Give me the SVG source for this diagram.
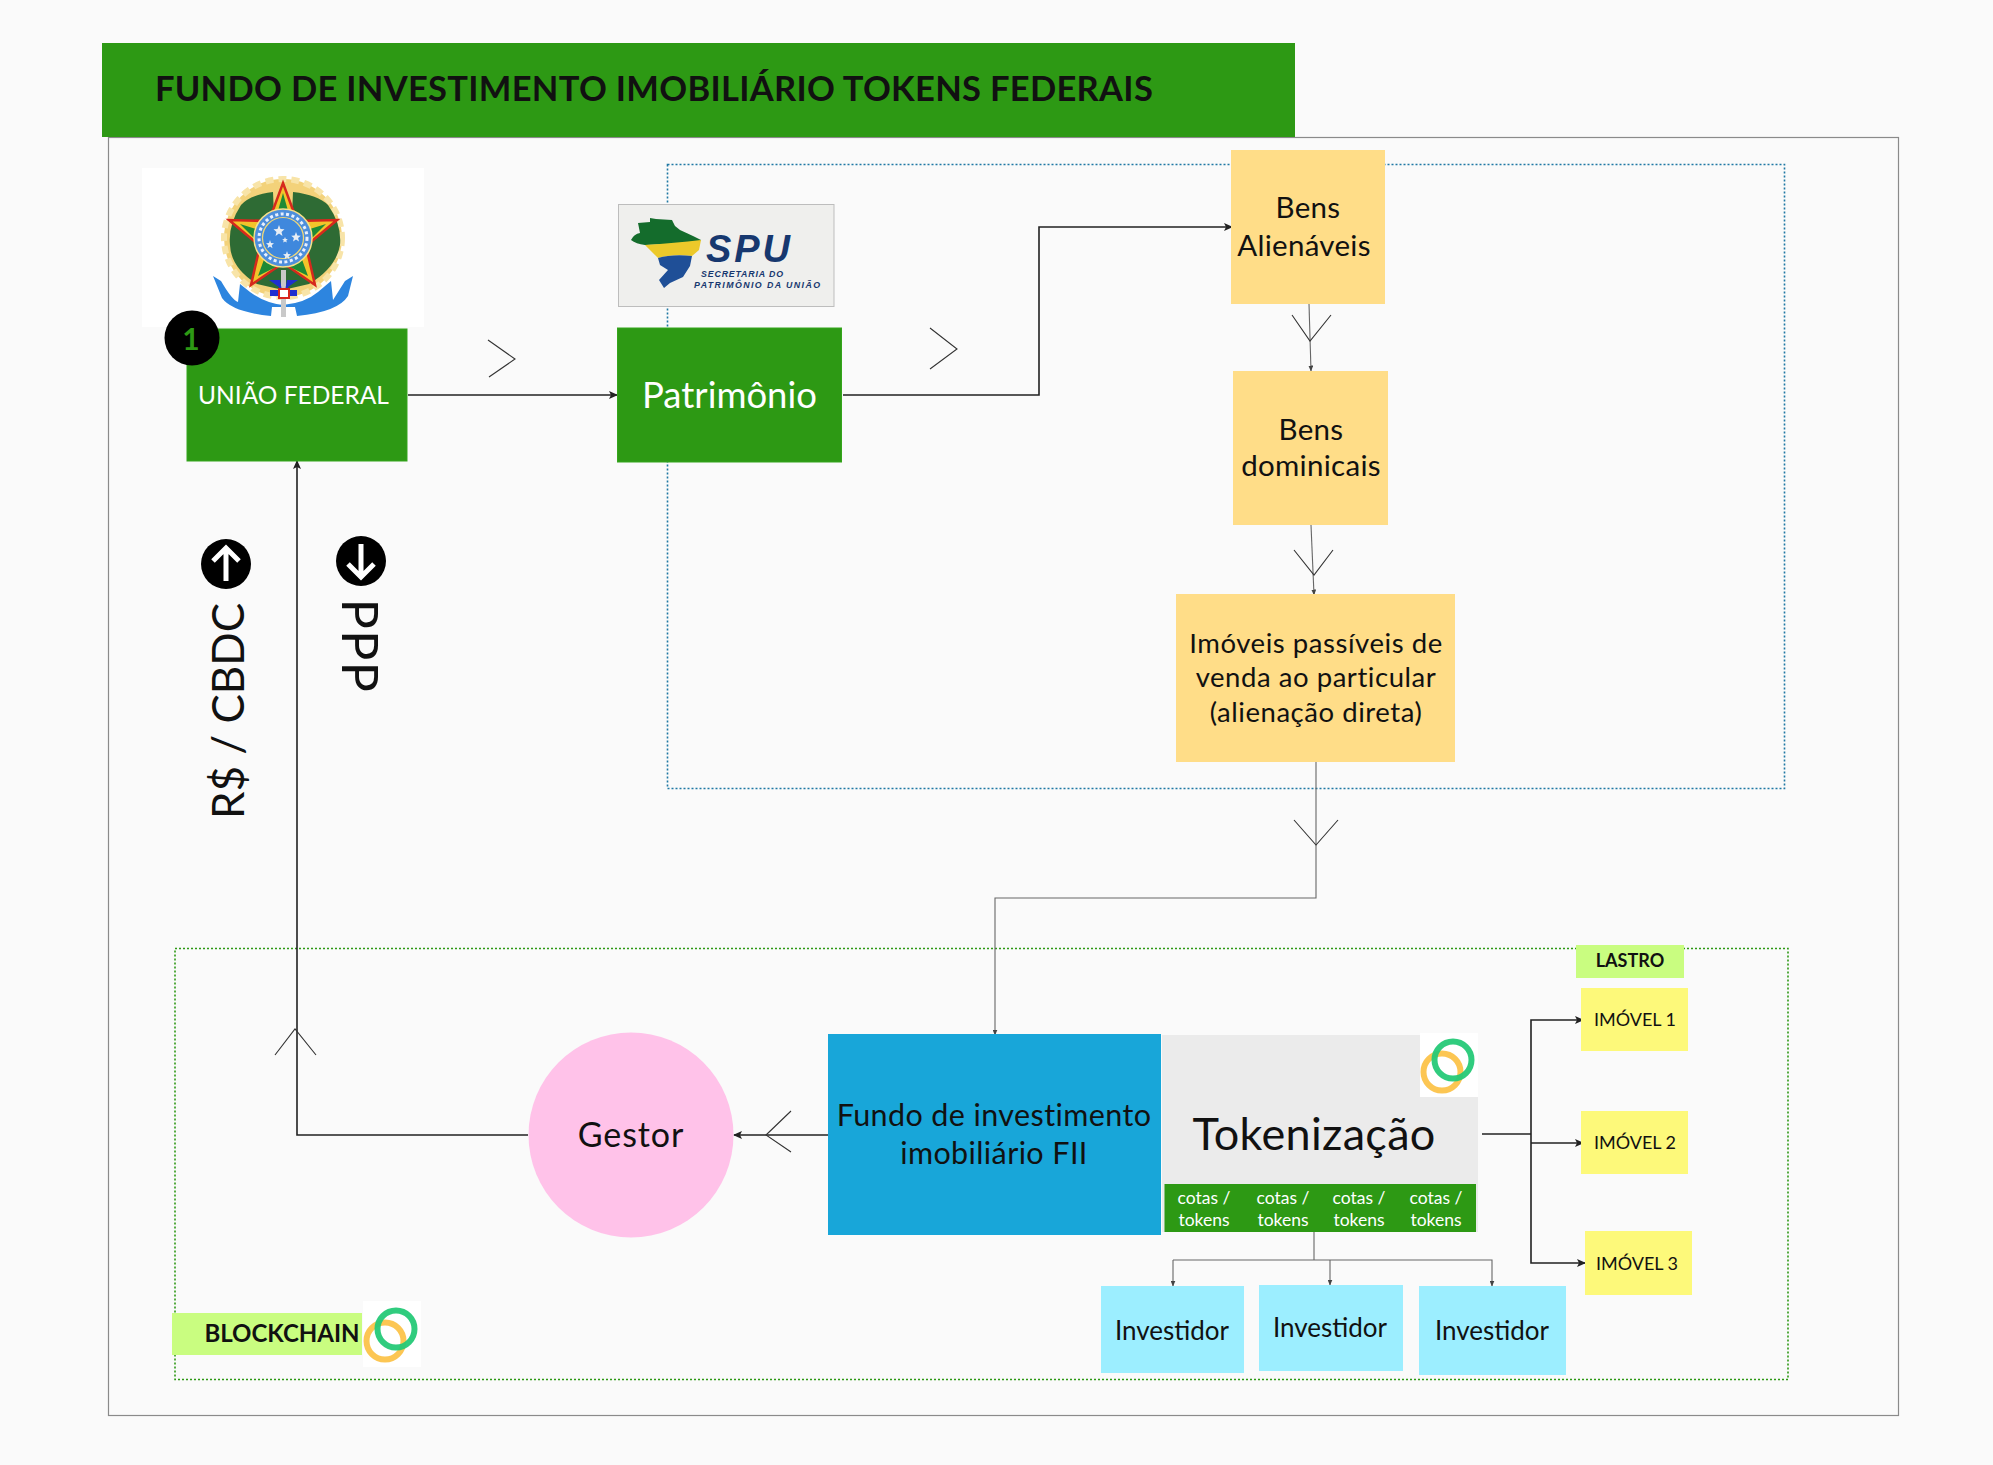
<svg xmlns="http://www.w3.org/2000/svg" width="1993" height="1465" viewBox="0 0 1993 1465">
<defs>
<style>
text{font-family:"Lato","Liberation Sans",sans-serif;fill:#111;text-anchor:middle}
.w{fill:#fff}
.c{fill:none;stroke:#222;stroke-width:1.6}
.t{fill:none;stroke:#666;stroke-width:1.1}
.ch{fill:none;stroke:#333;stroke-width:1.1}
.g{fill:#2d9914;stroke:#35a51c;stroke-width:1}
.y{fill:#ffdd88}
.b{fill:#9ceeff}
.l{fill:#fdf97a}
.ring{fill:none;stroke-width:6}
.sm{font-size:17.5px}
.p{font-size:29.5px;letter-spacing:.3px}
.q{font-size:27.5px;letter-spacing:.55px}
.f{font-size:30.5px;letter-spacing:.4px}
.spu{font-family:"Liberation Sans",sans-serif;fill:#17386f;font-weight:700;font-style:italic}
</style>
<marker id="a" markerWidth="9" markerHeight="8" refX="8" refY="4" orient="auto" markerUnits="userSpaceOnUse"><path d="M0 0L9 4L0 8L2 4Z" fill="#222"/></marker>
<marker id="s" markerWidth="6" markerHeight="5" refX="5.500" refY="2.500" orient="auto" markerUnits="userSpaceOnUse"><path d="M0 0L6 2.500L0 5Z" fill="#444"/></marker>
<symbol id="rings" overflow="visible"><circle class="ring" cx="0" cy="12" r="18.500" stroke="#fcc653"/><circle class="ring" cx="11" cy="0" r="18.500" stroke="#25c977" stroke-opacity=".95"/></symbol>
</defs>
<rect width="1993" height="1465" fill="#fafafa"/>
<rect x="108.500" y="137.500" width="1790" height="1278" fill="none" stroke="#8a8a8a" stroke-width="1.200"/>
<rect x="667.500" y="164.500" width="1117" height="624" fill="none" stroke="#1f78a4" stroke-width="1.600" stroke-dasharray="2 2"/>
<rect x="175" y="948.500" width="1613" height="431" fill="none" stroke="#2d9914" stroke-width="1.600" stroke-dasharray="2 2"/>

<g id="connectors">
<path class="c" marker-end="url(#a)" d="M408 395H617"/>
<path class="ch" d="M488 340L515 359L489 377"/>
<path class="c" marker-end="url(#a)" d="M843 395H1039V227H1232"/>
<path class="ch" d="M930 328L957 349L930 369"/>
<path class="t" marker-end="url(#s)" d="M1309 304L1311 371"/>
<path class="ch" d="M1292 315L1310 341L1331 315"/>
<path class="t" marker-end="url(#s)" d="M1311 525L1314 595"/>
<path class="ch" d="M1294 550L1314 575L1333 550"/>
<path class="t" marker-end="url(#s)" d="M1316 762V898H995V1035"/>
<path class="ch" d="M1294 820L1316 845L1338 820"/>
<path class="c" marker-end="url(#a)" d="M828 1135H734"/>
<path class="ch" d="M791 1111L766 1135L791 1152"/>
<path class="c" marker-end="url(#a)" d="M528 1135H297V461"/>
<path class="ch" d="M275 1055L295 1029L316 1055"/>
<path class="c" d="M1482 1134H1531"/>
<path class="c" marker-end="url(#a)" d="M1531 1134V1020H1583"/>
<path class="c" marker-end="url(#a)" d="M1531 1143H1583"/>
<path class="c" marker-end="url(#a)" d="M1531 1134V1263H1585"/>
<path class="t" d="M1314 1232V1260"/>
<path class="t" marker-end="url(#s)" d="M1173 1260V1286"/>
<path class="t" marker-end="url(#s)" d="M1173 1260H1492V1286"/>
<path class="t" marker-end="url(#s)" d="M1330 1260V1285"/>
</g>

<g id="title"><rect x="102" y="43" width="1193" height="94" fill="#2d9914"/><text x="654" y="101" font-size="34.500" font-weight="700" style="letter-spacing:.3px">FUNDO DE INVESTIMENTO IMOBILIÁRIO TOKENS FEDERAIS</text></g>

<g id="brasao">
<rect x="142" y="168" width="282" height="159" fill="#fff"/>
<circle cx="283" cy="238" r="59" fill="#f3d27a" stroke="#f8e4a8" stroke-width="6" stroke-dasharray="8 5"/>
<path d="M273 192Q250 195 241 205Q228 225 230 245Q231 268 257 284L283 290L309 284Q336 268 340 245Q342 225 328 205Q318 195 293 192L292 215H274Z" fill="#2e6b34"/>
<path d="M283 183L297 221L337 220L306 246L315 285L283 263L251 285L260 246L229 220L269 221Z" fill="#f2c42a" stroke="#d6291d" stroke-width="2.500"/>
<path d="M283 193L292 225H274ZM240 224L266 232L262 246ZM326 224L304 246L300 232ZM258 276L266 254L278 266ZM308 276L288 266L300 254Z" fill="#1e8a35"/>
<circle cx="283" cy="238" r="29" fill="#4e8fdc" stroke="#f6e08a" stroke-width="1.500"/>
<circle cx="283" cy="238" r="24" fill="none" stroke="#e8f0ff" stroke-width="3" stroke-dasharray="3 2.500"/>
<circle cx="283" cy="238" r="20.500" fill="#3f88dd" stroke="#f1d878" stroke-width="1.200"/>
<path d="M279 225l1.500 4 4 .3-3 2.600 1 4-3.500-2.300-3.500 2.300 1-4-3-2.600 4-.3ZM296 232l1.300 3.500 3.500.2-2.700 2.300.9 3.500-3-2-3 2 .9-3.500-2.700-2.300 3.500-.2ZM270 240l1 3 3 .2-2.300 2 .8 3-2.500-1.700-2.500 1.700.8-3-2.300-2 3-.2ZM287 251l1 3 3 .2-2.300 2 .8 3-2.500-1.700-2.500 1.700.8-3-2.300-2 3-.2ZM285 237l.8 2 2 .2-1.500 1.300.5 2-1.800-1-1.800 1 .5-2-1.500-1.300 2-.2Z" fill="#e8eef5"/>
<path d="M213 276L221 281Q232 300 238 302L240 284L250 292Q265 303 283 305Q305 303 318 292L331 281L333 300L345 281L353 276L348 296Q338 312 297 316L295 307H272L271 316Q232 312 222 298Z" fill="#2d85df"/>
<rect x="281" y="270" width="5" height="47" fill="#c9c9c9"/>
<path d="M269 280h11l2 11h-3v-4zM298 280h-11l-2 11h3v-4zM270 290h27v6h-27z" fill="#1f2fd0"/>
<rect x="279" y="289" width="10" height="9" fill="#fff" stroke="#d8241c" stroke-width="2"/>
</g>

<g id="spu">
<rect x="618.500" y="204.500" width="215.500" height="102" fill="#efefed" stroke="#bdbdbd"/>
<path d="M631 240Q634 234 640 233L638 223L650 222L650 218L656 219L672 220L675 226L680 230L693 236L701 240L696 246Q675 243 645 245Q636 244 631 240Z" fill="#146c2c"/>
<path d="M645 245Q675 243 701 240L699 250L692 256Q672 254 658 258Z" fill="#ecc92a"/>
<path d="M658 258Q672 254 692 256L690 266L683 277L670 283L664 288L659 280L668 270L660 265Z" fill="#1f4f97"/>
<text class="spu" x="748" y="262" font-size="38" textLength="84">SPU</text>
<text class="spu" x="742" y="277" font-size="8.800" textLength="82">SECRETARIA DO</text>
<text class="spu" x="757" y="288" font-size="8.800" textLength="126">PATRIMÔNIO DA UNIÃO</text>
</g>

<g id="uniao"><rect class="g" x="187" y="329" width="220" height="132"/><text class="w" x="293.500" y="404" font-size="24.500">UNIÃO FEDERAL</text></g>
<g id="badge1"><circle cx="192" cy="338" r="27.500" fill="#000"/><text x="191" y="350" font-size="30" font-weight="700" style="fill:#2d9914">1</text></g>
<g id="patrimonio"><rect class="g" x="617.500" y="328" width="224" height="134"/><text class="w" x="729.500" y="408" font-size="36.500">Patrimônio</text></g>

<g id="bens-alienaveis"><rect class="y" x="1231" y="150" width="154" height="154"/><text class="p" x="1308" y="218">Bens</text><text class="p" x="1304" y="256">Alienáveis</text></g>
<g id="bens-dominicais"><rect class="y" x="1233" y="371" width="155" height="154"/><text class="p" x="1311" y="440">Bens</text><text class="p" x="1311" y="476">dominicais</text></g>
<g id="imoveis"><rect class="y" x="1176" y="594" width="279" height="168"/><text class="q" x="1316" y="653">Imóveis passíveis de</text><text class="q" x="1316" y="687">venda ao particular</text><text class="q" x="1316" y="722">(alienação direta)</text></g>

<g id="rcbdc"><circle cx="226" cy="564" r="25" fill="#000"/><path d="M226 581V549M213 561L226 548L239 561" fill="none" stroke="#fff" stroke-width="5"/><text transform="translate(244 711) rotate(-90)" font-size="44">R$ / CBDC</text></g>
<g id="ppp"><circle cx="361" cy="561" r="25" fill="#000"/><path d="M361 544V576M348 564L361 577L374 564" fill="none" stroke="#fff" stroke-width="5"/><text transform="translate(342 646) rotate(90)" font-size="50" style="letter-spacing:1.500px">PPP</text></g>

<g id="gestor"><circle cx="631" cy="1135" r="102.500" fill="#ffc2e9"/><text x="631" y="1147" font-size="34" style="letter-spacing:.9px">Gestor</text></g>
<g id="fundo"><rect x="828" y="1034" width="333" height="201" fill="#18a6d9"/><text class="f" x="994" y="1126">Fundo de investimento</text><text class="f" x="994" y="1164">imobiliário FII</text></g>
<g id="tokenizacao"><rect x="1162" y="1035" width="316" height="197" fill="#ebebeb"/><text x="1314" y="1150" font-size="45" style="letter-spacing:.3px">Tokenização</text>
<rect x="1420" y="1033" width="58" height="64" fill="#fff"/><use href="#rings" x="1442" y="1060"/>
<rect x="1164.500" y="1184" width="311.500" height="48" fill="#2d9914"/>
<g class="sm"><text class="w" x="1204" y="1204">cotas /</text><text class="w" x="1204" y="1226">tokens</text><text class="w" x="1283" y="1204">cotas /</text><text class="w" x="1283" y="1226">tokens</text><text class="w" x="1359" y="1204">cotas /</text><text class="w" x="1359" y="1226">tokens</text><text class="w" x="1436" y="1204">cotas /</text><text class="w" x="1436" y="1226">tokens</text></g></g>

<g id="lastro"><rect x="1576" y="945" width="108" height="33" fill="#c9fd80"/><text x="1630" y="967" font-size="18" font-weight="700">LASTRO</text></g>
<g id="imovel1"><rect class="l" x="1581" y="988" width="107" height="63"/><text x="1635" y="1026" font-size="18">IMÓVEL 1</text></g>
<g id="imovel2"><rect class="l" x="1581" y="1111" width="107" height="63"/><text x="1635" y="1149" font-size="18">IMÓVEL 2</text></g>
<g id="imovel3"><rect class="l" x="1585" y="1231" width="107" height="64"/><text x="1637" y="1270" font-size="18">IMÓVEL 3</text></g>

<g id="investidor1"><rect class="b" x="1101" y="1286" width="143" height="87"/><text x="1172" y="1340" font-size="26">Investidor</text></g>
<g id="investidor2"><rect class="b" x="1259" y="1285" width="144" height="86"/><text x="1330" y="1337" font-size="26">Investidor</text></g>
<g id="investidor3"><rect class="b" x="1419" y="1286" width="147" height="89"/><text x="1492" y="1340" font-size="26">Investidor</text></g>

<g id="blockchain"><rect x="172" y="1313" width="190" height="42" fill="#c9fd80"/><rect x="363" y="1301" width="58" height="66" fill="#fff"/><use href="#rings" x="385" y="1329"/><text x="282" y="1342" font-size="24" font-weight="700">BLOCKCHAIN</text></g>
</svg>
